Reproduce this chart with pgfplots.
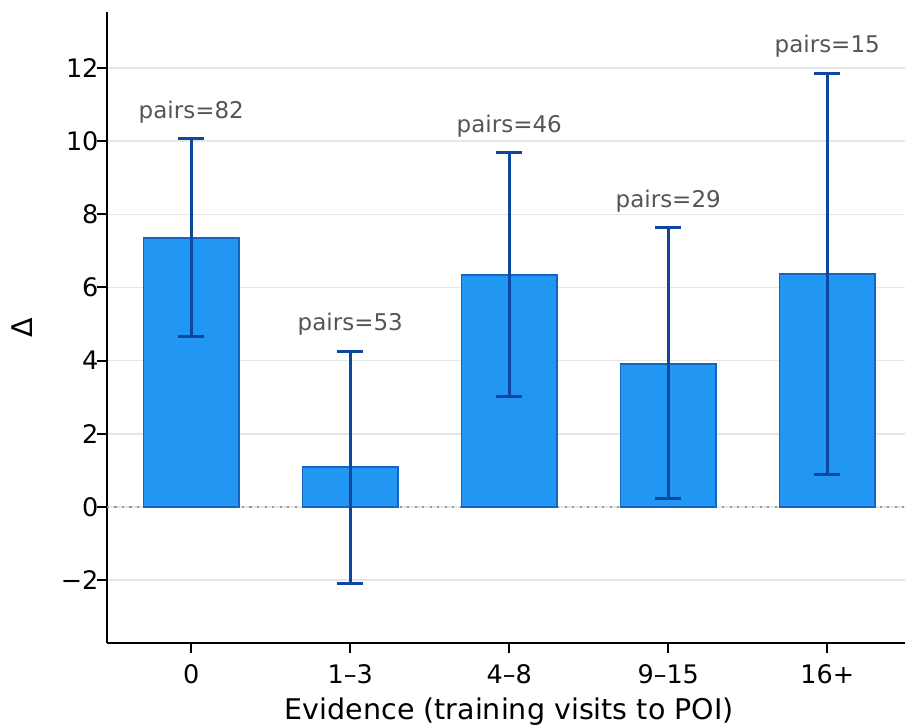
\documentclass[border=0pt]{standalone}
\usepackage{fontspec}
\setmainfont{DejaVu Sans}
\usepackage{pgfplots}
\usepackage{pgfplotstable}
\pgfplotsset{compat=1.18}
\definecolor{barfill}{HTML}{2196F3}
\definecolor{baredge}{HTML}{1565C0}
\definecolor{errc}{HTML}{0D47A1}
\definecolor{gridc}{HTML}{E6E6E6}
\definecolor{annot}{HTML}{555555}
\definecolor{zeroc}{HTML}{999999}
\pgfplotstableread{
x y ep em
0 7.35 2.71 2.70
1 1.09 3.17 3.17
2 6.34 3.34 3.31
3 3.91 3.72 3.69
4 6.37 5.49 5.47
}\datatable
\begin{document}
\begin{tikzpicture}
\clip (-107pt,-83pt) rectangle (798pt,643pt);
\begin{axis}[
  at={(0,0)}, anchor=south west,
  scale only axis, width=804.5pt, height=631pt,
  xmin=-0.53, xmax=4.53, ymin=-3.72, ymax=13.53,
  axis x line*=bottom, axis y line*=left,
  axis line style={line width=1.9pt, -},
  xtick={0,1,2,3,4}, xticklabels={0,1–3,4–8,9–15,16+},
  ytick={-2,0,2,4,6,8,10,12}, yticklabels={−2,0,2,4,6,8,10,12},
  tick style={line width=1.9pt, black}, major tick length=10pt, tick align=outside,
  ymajorgrids, grid style={gridc, line width=1.5pt},
  ticklabel style={font=\fontsize{25.5}{30}\selectfont},
  xticklabel style={yshift=-8pt},
  yticklabel style={xshift=5pt},
  xlabel={Evidence (training visits to POI)}, ylabel={Δ},
  label style={font=\fontsize{28.5}{33}\selectfont},
  xlabel style={at={(axis description cs:0.5,-0.1095)}, anchor=center},
  ylabel style={at={(axis description cs:-0.105,0.5)}, anchor=center},
  clip=false,
]
\addplot[zeroc, line width=2pt, dash pattern=on 2.2pt off 5.3pt] coordinates {(-0.53,0) (4.53,0)};
\addplot[ybar, bar width=0.6, bar shift=0pt, fill=barfill, draw=baredge, line width=1.5pt,
  error bars/.cd, y dir=both, y explicit,
  error bar style={errc, line width=3pt},
  error mark options={rotate=90, errc, mark size=13pt, line width=3pt}]
  table[x=x, y=y, y error plus=ep, y error minus=em]{\datatable};
\node[annot, font=\fontsize{23}{28}\selectfont] at (axis cs:0,10.80) {pairs=82};
\node[annot, font=\fontsize{23}{28}\selectfont] at (axis cs:1,5.00) {pairs=53};
\node[annot, font=\fontsize{23}{28}\selectfont] at (axis cs:2,10.42) {pairs=46};
\node[annot, font=\fontsize{23}{28}\selectfont] at (axis cs:3,8.37) {pairs=29};
\node[annot, font=\fontsize{23}{28}\selectfont] at (axis cs:4,12.60) {pairs=15};
\end{axis}
\end{tikzpicture}
\end{document}
